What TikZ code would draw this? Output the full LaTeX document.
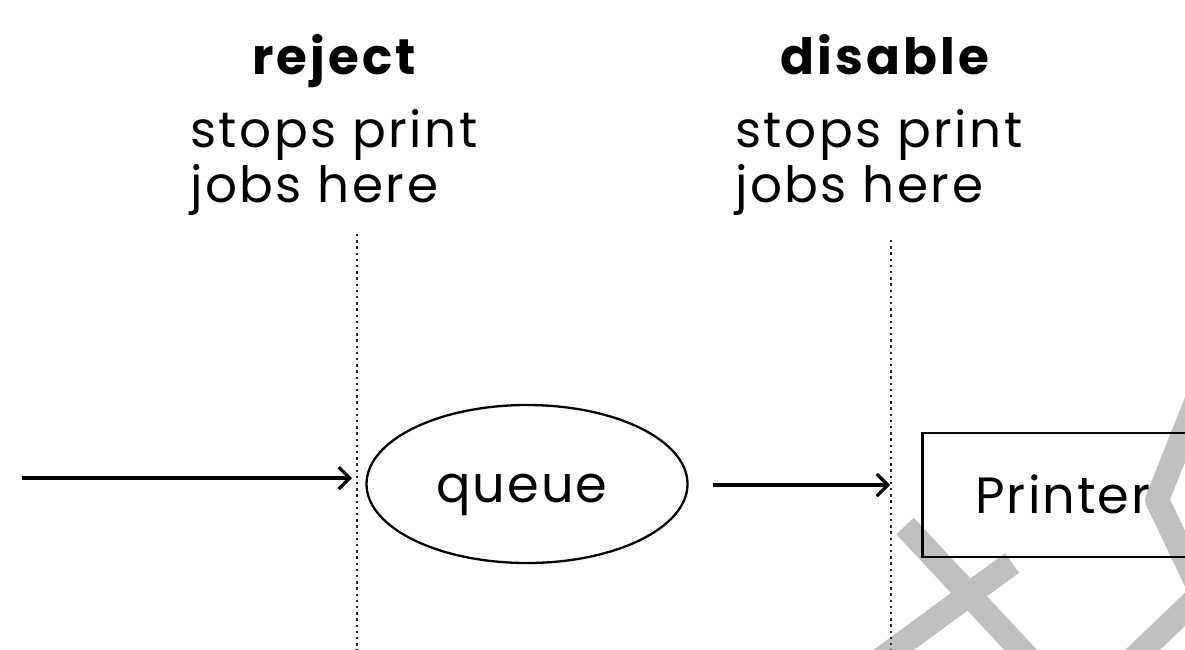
\documentclass[tikz,border=0pt]{standalone}
\usepackage{fontspec}
\setmainfont{Poppins}
\newfontfamily\labelfont[LetterSpace=5]{Poppins}
\newfontfamily\headfont[LetterSpace=6]{Poppins}
\newfontfamily\boxfont[LetterSpace=4]{Poppins}
\usetikzlibrary{shapes.geometric,arrows.meta}

\tikzset{
  head/.style={font=\headfont\fontsize{50}{56}\selectfont\bfseries, inner sep=0pt, anchor=base},
  body/.style={font=\labelfont\fontsize{50}{56}\selectfont, inner sep=0pt, anchor=base west},
  boxtext/.style={font=\boxfont\fontsize{51}{60}\selectfont, inner sep=0pt, anchor=base},
  cutline/.style={line width=2.6pt, dash pattern=on 2.4pt off 3.8pt, black!85},
  flow/.style={line width=3.4pt, -{Straight Barb[length=11pt,width=22pt,line width=3.2pt]}},
  queuebox/.style={draw, ellipse, line width=2.3pt, minimum width=321pt, minimum height=158pt,
                   inner sep=0pt},
  printerbox/.style={draw, line width=2.5pt, minimum width=330pt, minimum height=124pt,
                     inner sep=0pt, anchor=west},
  crossmark/.style={line width=24pt, gray!50, line cap=butt, line join=round}
}

\begin{document}
\begin{tikzpicture}[x=1pt, y=-1pt]
\useasboundingbox (0,0) rectangle (1185,649);
\clip (0,0) rectangle (1185,649);

% grey cross marks in the background
\draw[crossmark] (905,526) -- (1030,660);
\draw[crossmark] (1012,563) -- (880,660);
\draw[crossmark] (1200,392) -- (1157,500) -- (1200,590);
\draw[crossmark] (1132,660) -- (1200,595);

% labels for the two cut points
\node[head] (rejhead) at (334,74) {reject};
\node[body] (rej1) at (190,147) {stops print};
\node[body] (rej2) at (190,202) {jobs here};

\node[head] (dishead) at (885,74) {disable};
\node[body] (dis1) at (735,147) {stops print};
\node[body] (dis2) at (735,202) {jobs here};

% cut lines
\coordinate (rejtop) at (357,234);
\coordinate (rejbot) at (357,652);
\coordinate (distop) at (891,240);
\coordinate (disbot) at (891,652);
\draw[cutline] (rejtop) -- (rejbot);
\draw[cutline] (distop) -- (disbot);

% queue and printer
\node[queuebox] (queue) at (527,484) {};
\node[boxtext] (queuelabel) at (522,502) {queue};
\node[printerbox] (printer) at (921,495) {};
\node[boxtext] (printerlabel) at (1063,513) {Printer};

% job flow
\coordinate (src) at (22,478);
\coordinate (rejcut) at (352,478);
\coordinate (qout) at (713,485);
\coordinate (discut) at (890,485);
\draw[flow] (src) -- (rejcut);
\draw[flow] (qout) -- (discut);
\end{tikzpicture}
\end{document}
